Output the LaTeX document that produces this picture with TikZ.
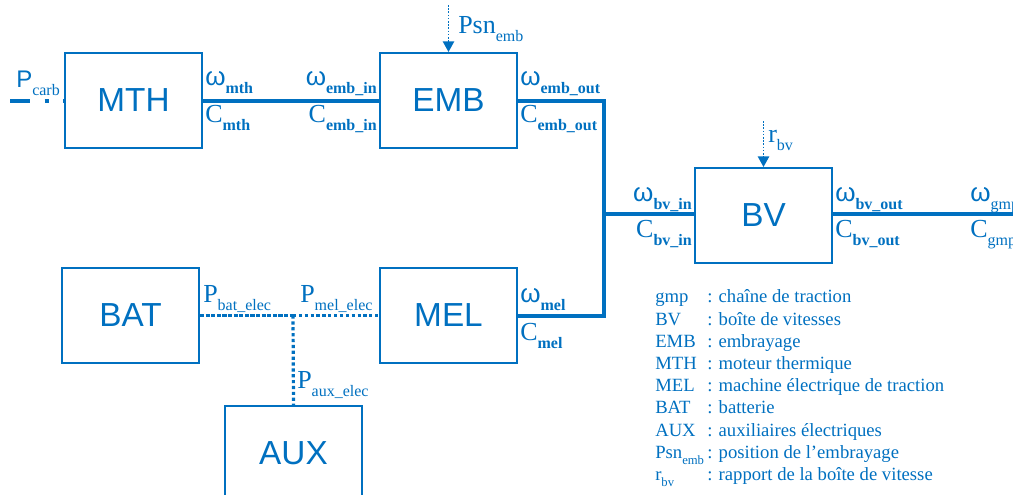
\documentclass[tikz,border=0pt]{standalone}
\usepackage{fontspec}
\setmainfont{Liberation Serif}
\newfontfamily\sansf{Liberation Sans}
\usetikzlibrary{arrows.meta}
\definecolor{bl}{HTML}{0070C0}
\newcommand\om{{\sansf ω}}
\newcommand\pb[2]{#1\raisebox{-6.5pt}{\fontsize{12}{14}\selectfont\bfseries #2}}
\newcommand\pr[2]{#1\raisebox{-6.5pt}{\fontsize{12}{14}\selectfont #2}}
\tikzset{
  blk/.style={draw=bl, line width=1.5pt, minimum width=102.75pt, minimum height=71.25pt,
    inner sep=0pt, text=bl, font=\sansf\fontsize{25}{28}\selectfont},
  lab/.style={text=bl, inner sep=0pt, font=\fontsize{19.5}{22}\selectfont},
  leg/.style={text=bl, inner sep=0pt, anchor=base west, font=\fontsize{14}{16}\selectfont},
  shaft/.style={draw=bl, line width=3pt},
  elec/.style={draw=bl, line width=2.4pt, dash pattern=on 2.4pt off 2pt},
  elecd/.style={draw=bl, line width=2.4pt, dash pattern=on 3.2pt off 1pt},
  cmd/.style={draw=bl, line width=1.2pt, dash pattern=on 1.2pt off 1.2pt,
    -{Triangle[length=8pt,width=8.5pt]}},
}
\begin{document}
\begin{tikzpicture}[x=0.75pt,y=-0.75pt]
\useasboundingbox (0,0) rectangle (1013,494);
\clip (0,0) rectangle (1013,494);
% blocks
\node[blk] (mth) at (133.5,100.5) {MTH};
\node[blk] (emb) at (448.5,100.5) {EMB};
\node[blk] (bv)  at (763.5,215.5) {BV};
\node[blk] (bat) at (130.5,315.5) {BAT};
\node[blk] (mel) at (448.5,315.5) {MEL};
\node[blk] (aux) at (293.5,453.5) {AUX};
% coordinates
\coordinate (pc) at (10,100.5);
\coordinate (k1) at (604,100.5);
\coordinate (k2) at (604,214);
\coordinate (k3) at (604,315.5);
\coordinate (gmp) at (1013,214);
\coordinate (jn) at (293,315.5);
\coordinate (psn) at (448.5,5);
\coordinate (rbv) at (763.5,121);
% connectors
\draw[draw=bl, line width=3pt, dash pattern=on 15 off 11 on 3 off 11] (pc) -- (mth.west);
\draw[shaft] (mth.east) -- (emb.west);
\draw[shaft] (emb.east) -- (k1) -- (k3) -- (mel.east);
\draw[shaft] (k2) -- (bv.west |- k2);
\draw[shaft] (bv.east |- gmp) -- (gmp);
\draw[elecd] (bat.east) -- (jn);
\draw[elec] (jn) -- (mel.west);
\draw[elec] (jn) -- (aux.north);
\draw[cmd] (psn) -- (emb.north);
\draw[cmd] (rbv) -- (bv.north);
% labels
\node[lab, anchor=base west] (lpc) at (16,87) {{\sansf\fontsize{18}{20}\selectfont P}\pr{}{carb}};
\node[lab, anchor=base west] (l1) at (205,85) {\pb{\om}{mth}};
\node[lab, anchor=base west] (l2) at (205,122) {\pb{C}{mth}};
\node[lab, anchor=base east] (l3) at (377,85) {\pb{\om}{emb\_in}};
\node[lab, anchor=base east] (l4) at (377,122) {\pb{C}{emb\_in}};
\node[lab, anchor=base west] (l5) at (520,85) {\pb{\om}{emb\_out}};
\node[lab, anchor=base west] (l6) at (520,122) {\pb{C}{emb\_out}};
\node[lab, anchor=base west] (l7) at (458,33) {\pr{Psn}{emb}};
\node[lab, anchor=base west] (l8) at (768,142) {\pr{r}{bv}};
\node[lab, anchor=base east] (l9) at (692,201) {\pb{\om}{bv\_in}};
\node[lab, anchor=base east] (l10) at (692,237) {\pb{C}{bv\_in}};
\node[lab, anchor=base west] (l11) at (835,201) {\pb{\om}{bv\_out}};
\node[lab, anchor=base west] (l12) at (835,237) {\pb{C}{bv\_out}};
\node[lab, anchor=base west] (l13) at (970,201) {\pr{\om}{gmp}};
\node[lab, anchor=base west] (l14) at (970,237) {\pr{C}{gmp}};
\node[lab, anchor=base west] (l15) at (203,302) {\pr{P}{bat\_elec}};
\node[lab, anchor=base west] (l16) at (300,302) {\pr{P}{mel\_elec}};
\node[lab, anchor=base west] (l17) at (520,302) {\pb{\om}{mel}};
\node[lab, anchor=base west] (l18) at (520,340) {\pb{C}{mel}};
\node[lab, anchor=base west] (l19) at (297,388) {\pr{P}{aux\_elec}};
% legend
\newcommand\ls[2]{#1\raisebox{-4.5pt}{\fontsize{9.5}{11}\selectfont #2}}
\foreach \a/\b [count=\i from 0] in {gmp/chaîne de traction, BV/boîte de vitesses,
  EMB/embrayage, MTH/moteur thermique, MEL/machine électrique de traction,
  BAT/batterie, AUX/auxiliaires électriques, {\ls{Psn}{emb}}/position de l’embrayage,
  {\ls{r}{bv}}/rapport de la boîte de vitesse}{
  \node[leg] (ka\i) at (655,302.8+22.2*\i) {\a};
  \node[leg] (kb\i) at (707,302.8+22.2*\i) {: \b};
}
\end{tikzpicture}
\end{document}
